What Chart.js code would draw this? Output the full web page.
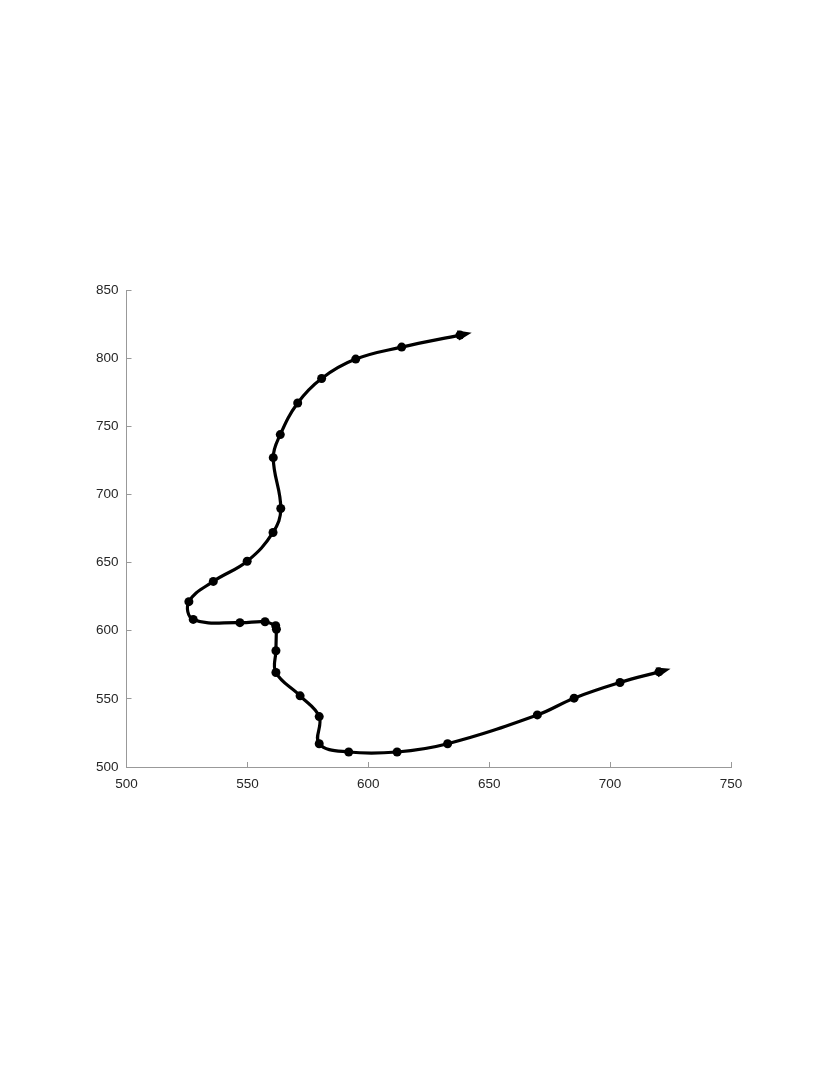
<!DOCTYPE html>
<html>
<head>
<meta charset="utf-8">
<script src="https://cdn.jsdelivr.net/npm/chart.js@4/dist/chart.umd.min.js"></script>
<style>
  html, body { margin: 0; padding: 0; background: #fff; }
  canvas { display: block; }
</style>
</head>
<body>
<canvas id="chart-track" width="830" height="1075"></canvas>
<script>
// Track going up and left from the start point
const upX = [561.7, 557.3, 546.9, 527.6, 525.8, 535.9, 549.9, 560.6, 563.8, 560.7, 563.6, 570.8, 580.7, 594.8, 613.8, 637.9];
const upY = [603.7, 606.6, 605.9, 608.3, 621.3, 636.2, 651.0, 672.1, 689.7, 727.0, 743.9, 767.1, 785.1, 799.3, 808.1, 816.9];

// Track going down and right from the start point
const downX = [562.0, 561.8, 561.8, 571.8, 579.7, 579.7, 591.9, 611.9, 632.8, 669.9, 685.1, 704.1, 720.2];
const downY = [601.1, 585.3, 569.3, 552.2, 537.0, 517.1, 511.0, 511.0, 517.1, 538.2, 550.5, 562.0, 569.8];

const xTicks = [500, 550, 600, 650, 700, 750];
const yTicks = [500, 550, 600, 650, 700, 750, 800, 850];

const toPoints = (xs, ys) => xs.map((x, i) => ({ x: x, y: ys[i] }));

// arrow head at the end of every track, along the curve's last tangent
const arrowHeads = {
	id: 'arrowHeads',
	afterDatasetsDraw(chart) {
		const c = chart.ctx;
		chart.data.datasets.forEach((ds, i) => {
			const pts = chart.getDatasetMeta(i).data;
			const last = pts[pts.length - 1];
			const prev = pts[pts.length - 2];
			let fx = prev.x, fy = prev.y;
			if (last.cp1x !== undefined && (last.cp1x !== last.x || last.cp1y !== last.y)) {
				fx = last.cp1x;
				fy = last.cp1y;
			}
			const a = Math.atan2(last.y - fy, last.x - fx);
			c.save();
			c.translate(last.x, last.y);
			c.rotate(a);
			c.fillStyle = '#000';
			c.beginPath();
			c.moveTo(12, 0);
			c.lineTo(-2, -5);
			c.lineTo(-2, 5);
			c.closePath();
			c.fill();
			c.restore();
		});
	},
};

!(function () {
	const ctx = document.getElementById('chart-track');

	const lineStyle = {
		showLine: true,
		borderColor: '#000',
		backgroundColor: '#000',
		borderWidth: 3.2,
		tension: 0.4,
		pointRadius: 4.5,
		pointHoverRadius: 4.5,
		pointBorderWidth: 0,
	};

	new Chart(ctx, {
		type: 'scatter',
		data: {
			datasets: [
				Object.assign({ label: 'up', data: toPoints(upX, upY) }, lineStyle),
				Object.assign({ label: 'down', data: toPoints(downX, downY) }, lineStyle),
			],
		},
		options: {
			responsive: false,
			animation: false,
			layout: {
				padding: { left: 0, right: 99, top: 290, bottom: 0 },
			},
			scales: {
				x: {
					type: 'linear',
					min: 500,
					max: 750,
					afterBuildTicks: (scale) => {
						scale.ticks = xTicks.map((v) => ({ value: v }));
					},
					afterFit: (scale) => {
						scale.height = 308;
					},
					border: { color: '#999', width: 1 },
					grid: { drawOnChartArea: false, color: '#999', tickLength: -5 },
					ticks: {
						color: '#262626',
						padding: 14,
						maxRotation: 0,
						font: { family: 'Liberation Sans', size: 13.5 },
					},
				},
				y: {
					type: 'linear',
					min: 500,
					max: 850,
					afterBuildTicks: (scale) => {
						scale.ticks = yTicks.map((v) => ({ value: v }));
					},
					afterFit: (scale) => {
						scale.width = 126.5;
					},
					border: { color: '#999', width: 1 },
					grid: { drawOnChartArea: false, color: '#999', tickLength: -5 },
					ticks: {
						color: '#262626',
						padding: 13,
						font: { family: 'Liberation Sans', size: 13.5 },
					},
				},
			},
			plugins: {
				legend: { display: false },
				tooltip: { enabled: false },
			},
		},
		plugins: [arrowHeads],
	});
})();
</script>
</body>
</html>
